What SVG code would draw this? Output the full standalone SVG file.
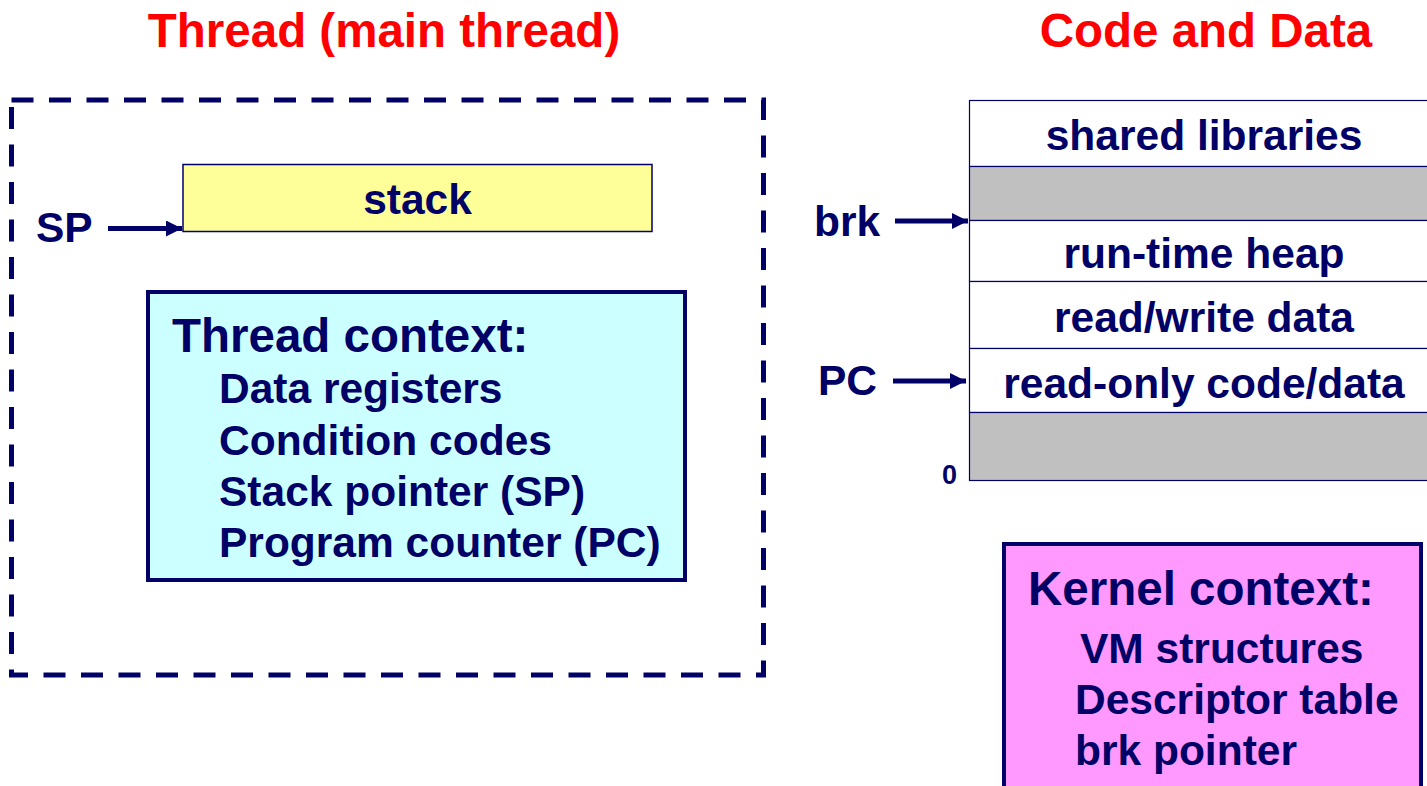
<svg xmlns="http://www.w3.org/2000/svg" width="1427" height="786" viewBox="0 0 1427 786">
<style>
text{font-family:"Liberation Sans",Arial,sans-serif;font-weight:bold;fill:#000066}
.title{font-size:47.5px;fill:#FF0000}
.hd{font-size:47.5px}
.t{font-size:42.5px}
.seg{stroke:#000066;stroke-width:1.2}
.conn{stroke:#000066;stroke-width:5;fill:none}
</style>
<defs>
<marker id="ah" markerWidth="16" markerHeight="16" refX="16" refY="8" orient="auto" markerUnits="userSpaceOnUse">
<path d="M0,0 L16,8 L0,16 Z" fill="#000066"/>
</marker>
</defs>
<rect width="1427" height="786" fill="#fff"/>
<g id="titles">
<text class="title" x="384" y="47" text-anchor="middle">Thread (main thread)</text>
<text class="title" x="1206" y="47" text-anchor="middle">Code and Data</text>
</g>
<g id="thread-frame">
<rect x="11.5" y="100" width="752" height="575" fill="none" stroke="#000066" stroke-width="5" stroke-dasharray="22 15.5"/>
</g>
<g id="stack">
<rect x="183" y="164.5" width="469" height="67" fill="#FFFF99" stroke="#000066" stroke-width="1.5"/>
<text class="t" x="417.5" y="214" text-anchor="middle">stack</text>
</g>
<g id="thread-context">
<rect x="148" y="292" width="537" height="288" fill="#CCFFFF" stroke="#000066" stroke-width="4"/>
<text class="hd" x="172" y="352">Thread context:</text>
<text class="t" x="219" y="403">Data registers</text>
<text class="t" x="219" y="455">Condition codes</text>
<text class="t" x="219" y="506">Stack pointer (SP)</text>
<text class="t" x="219" y="557">Program counter (PC)</text>
</g>
<g id="labels">
<text class="t" x="36" y="242">SP</text>
<text class="t" x="814" y="236">brk</text>
<text class="t" x="818" y="395">PC</text>
<text x="942" y="484" style="font-size:27px">0</text>
</g>
<g id="memory">
<rect class="seg" x="969.5" y="100.5" width="470" height="66" fill="#fff"/>
<rect class="seg" x="969.5" y="166.5" width="470" height="54" fill="#C0C0C0"/>
<rect class="seg" x="969.5" y="220.5" width="470" height="61" fill="#fff"/>
<rect class="seg" x="969.5" y="281.5" width="470" height="67" fill="#fff"/>
<rect class="seg" x="969.5" y="348.5" width="470" height="64" fill="#fff"/>
<rect class="seg" x="969.5" y="412.5" width="470" height="68" fill="#C0C0C0"/>
<text class="t" x="1204" y="150" text-anchor="middle">shared libraries</text>
<text class="t" x="1204" y="268" text-anchor="middle">run-time heap</text>
<text class="t" x="1204" y="332" text-anchor="middle">read/write data</text>
<text class="t" x="1204" y="398" text-anchor="middle">read-only code/data</text>
</g>
<g id="kernel-context">
<rect x="1004" y="544" width="417" height="260" fill="#FF99FF" stroke="#000066" stroke-width="4"/>
<text class="hd" x="1028" y="605">Kernel context:</text>
<text class="t" x="1080" y="663">VM structures</text>
<text class="t" x="1075" y="714">Descriptor table</text>
<text class="t" x="1075" y="765">brk pointer</text>
</g>
<g id="connectors">
<line class="conn" x1="108" y1="228.5" x2="182" y2="228.5" marker-end="url(#ah)"/>
<line class="conn" x1="895" y1="221" x2="968" y2="221" marker-end="url(#ah)"/>
<line class="conn" x1="893" y1="381" x2="966" y2="381" marker-end="url(#ah)"/>
</g>
</svg>
